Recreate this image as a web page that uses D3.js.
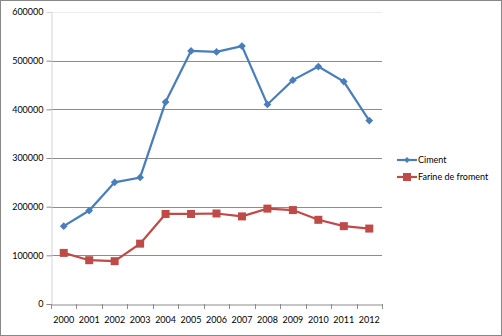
<!DOCTYPE html>
<html><head><meta charset="utf-8">
<script src="https://cdn.jsdelivr.net/npm/d3@7"></script>
<style>body{margin:0;background:#fff}svg{display:block}text{font-family:Lato,"Open Sans",sans-serif;fill:#000}</style>
</head><body><svg id="c" width="502" height="336"></svg>
<script>
const years = ["2000","2001","2002","2003","2004","2005","2006","2007","2008","2009","2010","2011","2012"];
const ciment = [160000,192000,250000,260000,415000,520000,518000,530000,410000,460000,488000,457000,377000];
const farine = [105000,90000,88000,124000,185000,185000,186000,180000,196000,193000,173000,160000,155000];
const yTicks = [0,100000,200000,300000,400000,500000,600000];
const seriesNames = ["Ciment","Farine de froment"];

const svg = d3.select("#c");
svg.append("rect").attr("x",0.5).attr("y",0.5).attr("width",501).attr("height",335).attr("fill","#fff").attr("stroke","#888");
const L=51,R=382,T=12,B=304;
const x = d3.scaleBand().domain(years).range([L,R]);
const y = d3.scaleLinear().domain([0,600000]).range([B,T]);

// gridlines
svg.append("g").selectAll("line").data(yTicks.filter(d=>d>0)).join("line")
  .attr("x1",L).attr("x2",R).attr("y1",d=>Math.round(y(d))+0.5).attr("y2",d=>Math.round(y(d))+0.5)
  .attr("stroke",d=>d===600000?"#ececec":"#8c8c8c").attr("stroke-width",1);

// y axis
const ya = svg.append("g").attr("transform",`translate(${L+0.5},0)`)
  .call(d3.axisLeft(y).tickValues(yTicks).tickSize(5).tickPadding(3).tickFormat(d3.format("d")));
ya.select(".domain").attr("stroke","#d4d4d4");
ya.selectAll(".tick line").attr("stroke","#8c8c8c");
ya.selectAll(".tick").filter(d=>d===600000).select("line").attr("stroke","none");
ya.selectAll("text").attr("font-size","9px").style("font-family","Lato,'Open Sans',sans-serif");

// x axis
const xa = svg.append("g").attr("transform",`translate(0,${B+0.5})`)
  .call(d3.axisBottom(x).tickSize(0).tickPadding(12));
xa.select(".domain").attr("stroke","#8c8c8c");
xa.selectAll("text").attr("font-size","9px").style("font-family","Lato,'Open Sans',sans-serif");
// category boundary ticks
svg.append("g").selectAll("line").data(d3.range(years.length+1)).join("line")
  .attr("x1",i=>Math.round(L+i*x.step())+0.5).attr("x2",i=>Math.round(L+i*x.step())+0.5)
  .attr("y1",B).attr("y2",B+5).attr("stroke","#8c8c8c");

const cx = d => x(d)+x.bandwidth()/2;
const line = d3.line().x((d,i)=>cx(years[i])).y(d=>y(d));
const blue="#4A7EBB", red="#BE4B48";

svg.append("path").datum(ciment).attr("d",line).attr("fill","none").attr("stroke",blue).attr("stroke-width",2.2);
svg.append("g").selectAll("path").data(ciment).join("path")
  .attr("d",d3.symbol(d3.symbolSquare,30)())
  .attr("transform",(d,i)=>`translate(${cx(years[i])},${y(d)}) rotate(45)`).attr("fill",blue);

svg.append("path").datum(farine).attr("d",line).attr("fill","none").attr("stroke",red).attr("stroke-width",2.2);
svg.append("g").selectAll("rect").data(farine).join("rect")
  .attr("x",(d,i)=>cx(years[i])-4).attr("y",d=>y(d)-4).attr("width",8).attr("height",8).attr("fill",red);

// legend
const lg = svg.append("g");
const cols=[blue,red];
seriesNames.forEach((n,i)=>{
  const yy = 160+i*17;
  lg.append("line").attr("x1",397).attr("x2",417).attr("y1",yy).attr("y2",yy).attr("stroke",cols[i]).attr("stroke-width",2.2);
  if(i===0) lg.append("path").attr("d",d3.symbol(d3.symbolSquare,18)()).attr("transform",`translate(407,${yy}) rotate(45)`).attr("fill",blue);
  else lg.append("rect").attr("x",403).attr("y",yy-4).attr("width",8).attr("height",8).attr("fill",red);
  lg.append("text").attr("x",418).attr("y",yy+3).attr("font-size","9px").text(n);
});
</script></body></html>
